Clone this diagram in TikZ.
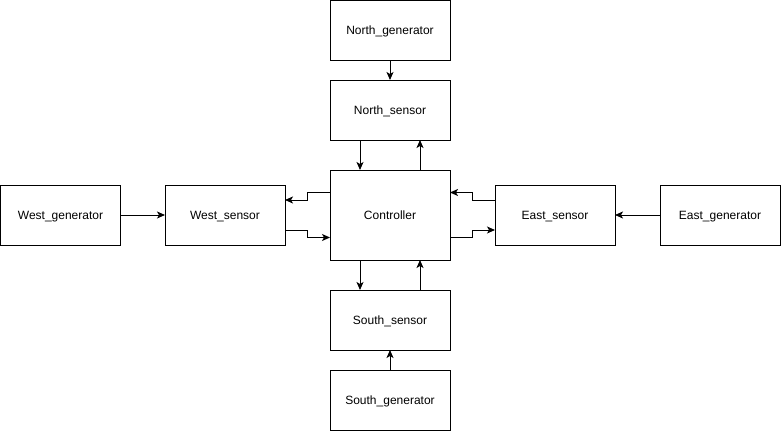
\documentclass[tikz,border=0pt]{standalone}
\usepackage{fontspec}
\setmainfont{Liberation Sans}
\usetikzlibrary{arrows.meta}
\begin{document}
\begin{tikzpicture}[x=1pt,y=-1pt,
  box/.style={draw,line width=1pt,minimum width=120pt,minimum height=60pt,outer sep=0pt,inner sep=0pt,text depth=0pt,font=\fontsize{12}{14}\selectfont},
  conn/.style={line width=1pt,-{Stealth[length=8pt,width=7pt,inset=2pt]}}]
\useasboundingbox (0,0) rectangle (781,431);
\node[box] (ng) at (390,30) {North\_generator};
\node[box] (ns) at (390,110) {North\_sensor};
\node[box,minimum height=90pt] (ctrl) at (390,215) {Controller};
\node[box] (ss) at (390,320) {South\_sensor};
\node[box] (sg) at (390,400) {South\_generator};
\node[box] (wg) at (60.5,215) {West\_generator};
\node[box] (ws) at (225,215) {West\_sensor};
\node[box] (es) at (555,215) {East\_sensor};
\node[box] (eg) at (720,215) {East\_generator};
\draw[conn] (ng.south) -- (ns.north);
\draw[conn] ([xshift=-30pt]ns.south) -- ([xshift=-30pt]ctrl.north);
\draw[conn] ([xshift=30pt]ctrl.north) -- ([xshift=30pt]ns.south);
\draw[conn] ([xshift=-30pt]ctrl.south) -- ([xshift=-30pt]ss.north);
\draw[conn] ([xshift=30pt]ss.north) -- ([xshift=30pt]ctrl.south);
\draw[conn] (sg.north) -- (ss.south);
\draw[conn] (wg.east) -- (ws.west);
\draw[conn] (eg.west) -- (es.east);
\draw[conn] ([yshift=22.5pt]ctrl.west) -- ++(-22.5,0) |- ([yshift=15pt]ws.east);
\draw[conn] ([yshift=-15pt]ws.east) -- ++(22.5,0) |- ([yshift=-22.5pt]ctrl.west);
\draw[conn] ([yshift=15pt]es.west) -- ++(-22.5,0) |- ([yshift=22.5pt]ctrl.east);
\draw[conn] ([yshift=-22.5pt]ctrl.east) -- ++(22.5,0) |- ([yshift=-15pt]es.west);
\end{tikzpicture}
\end{document}
